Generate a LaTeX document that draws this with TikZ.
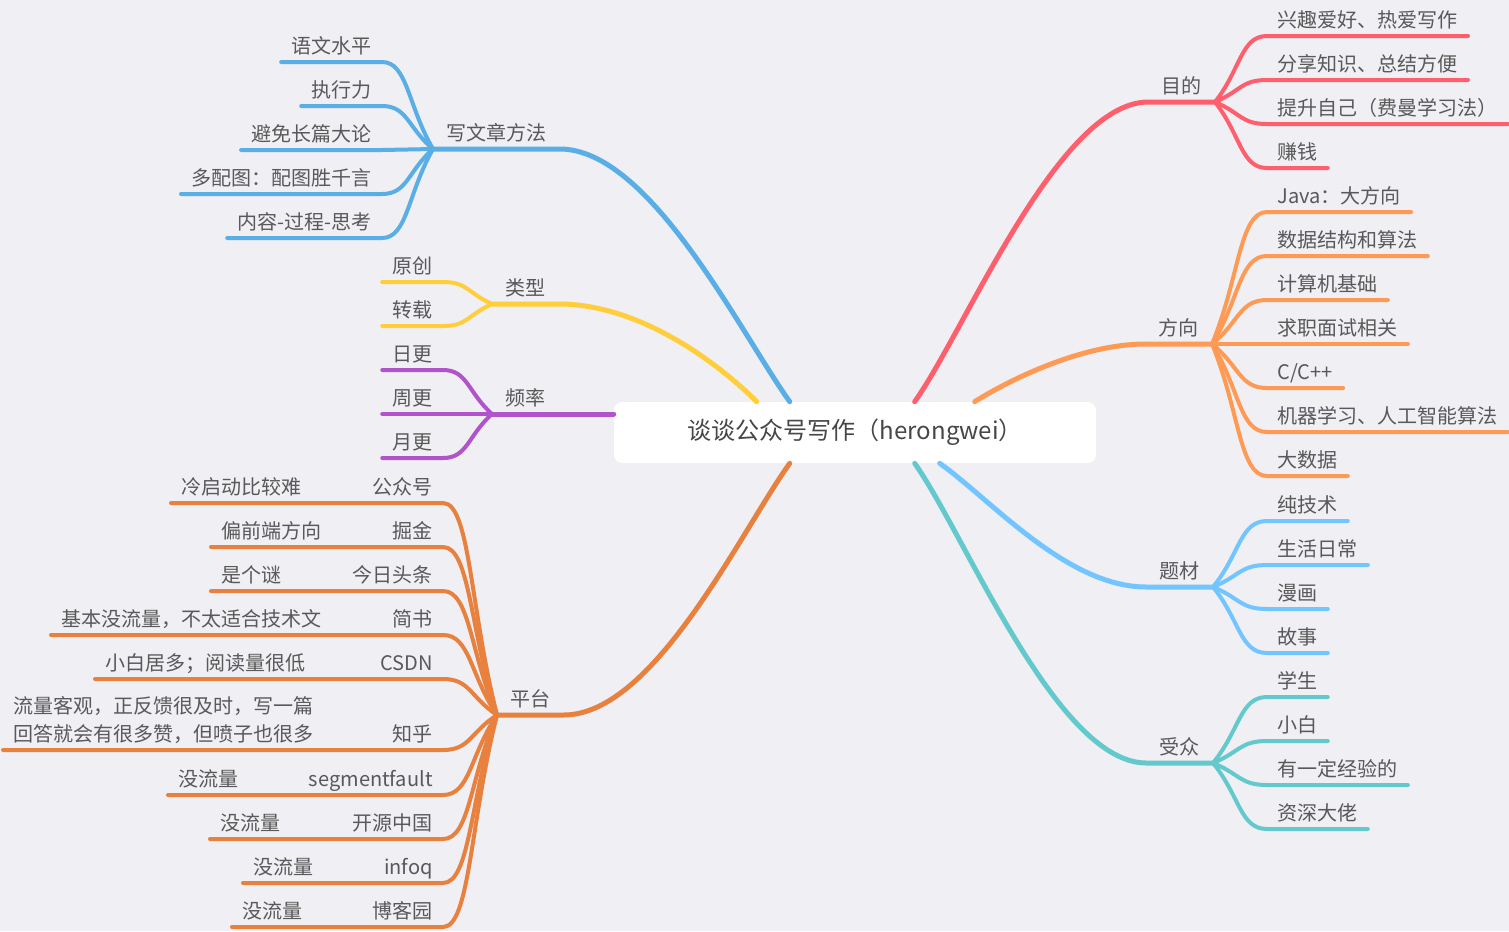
\documentclass[tikz,border=0pt]{standalone}
\usepackage{fontspec}
\setmainfont{Noto Sans CJK SC}
\usetikzlibrary{calc}

\definecolor{bgcol}{HTML}{EFEFF4}
\definecolor{txtcol}{HTML}{595959}
\definecolor{mudicol}{HTML}{FF5E6C}
\definecolor{fxcol}{HTML}{FF9A55}
\definecolor{tccol}{HTML}{72C5FF}
\definecolor{szcol}{HTML}{63C9CC}
\definecolor{xfcol}{HTML}{5AAEE6}
\definecolor{lxcol}{HTML}{FFCE3A}
\definecolor{plcol}{HTML}{B153CB}
\definecolor{ptcol}{HTML}{E8803E}

\tikzset{
  topic/.style={font=\fontsize{11.4}{13.7}\selectfont, text=txtcol, inner xsep=0.26cm, inner ysep=0.17cm, text depth=0pt},
  leaf/.style={topic, inner xsep=0.2cm},
  note/.style={leaf, align=left, font=\fontsize{11.4}{15.9}\selectfont},
  rootbox/.style={fill=white, rounded corners=0.16cm, minimum width=9.64cm, minimum height=1.22cm, font=\fontsize{13.7}{16}\selectfont, text=black!72},
  branch/.style={line width=0.1cm, line cap=round},
  twig/.style={line width=0.08cm, line cap=round},
  fan/.style={to path={.. controls ($(\tikztostart)!0.5!(\tikztotarget)$) and ($(\tikztotarget)!0.5!(\tikztotarget -| \tikztostart)$) .. (\tikztotarget)}}
}

\begin{document}
\begin{tikzpicture}[x=0.02cm, y=-0.02cm]
\useasboundingbox (0,0) rectangle (1509,931);
\fill[bgcol] (0,0) rectangle (1509,931);
%central topic
\node[rootbox] (root) at (855,432.5) {谈谈公众号写作（herongwei）};
%main topics
\node[topic, anchor=south east] (mudi) at (1215,102) {目的};
\node[topic, anchor=south east] (fangxiang) at (1212,344) {方向};
\node[topic, anchor=south east] (ticai) at (1213,587) {题材};
\node[topic, anchor=south east] (shouzhong) at (1213,763) {受众};
\node[topic, anchor=south west] (xiefa) at (433,149) {写文章方法};
\node[topic, anchor=south west] (leixing) at (492,304) {类型};
\node[topic, anchor=south west] (pinlv) at (492,414) {频率};
\node[topic, anchor=south west] (pingtai) at (497,715) {平台};
%right branches
\draw[branch, mudicol] ($(root.north west)+(301,0)$) .. controls +(50,-70) and +(-90,0) .. (mudi.south west) -- (mudi.south east);
\draw[branch, fxcol] ($(root.north west)+(361,0)$) .. controls +(40,-25) and +(-60,0) .. (fangxiang.south west) -- (fangxiang.south east);
\draw[branch, tccol] ($(root.south west)+(326,0)$) .. controls +(50,35) and +(-80,0) .. (ticai.south west) -- (ticai.south east);
\draw[branch, szcol] ($(root.south west)+(301,0)$) .. controls +(50,70) and +(-90,0) .. (shouzhong.south west) -- (shouzhong.south east);
%left branches
\draw[branch, xfcol] ($(root.north west)+(176,0)$) .. controls +(-50,-70) and +(90,0) .. (xiefa.south east) -- (xiefa.south west);
\draw[branch, lxcol] ($(root.north west)+(143,0)$) .. controls +(-40,-40) and +(80,0) .. (leixing.south east) -- (leixing.south west);
\draw[branch, plcol] (pinlv.south east -| root.west) -- (pinlv.south east) -- (pinlv.south west);
\draw[branch, ptcol] ($(root.south west)+(176,0)$) .. controls +(-50,70) and +(90,0) .. (pingtai.south east) -- (pingtai.south west);
%目的
\foreach \n/\y/\t in {1/36/兴趣爱好、热爱写作, 2/80/分享知识、总结方便, 3/124/提升自己（费曼学习法）, 4/168/赚钱}{
  \node[leaf, anchor=south west] (mudi-\n) at (1267,\y) {\t};
  \draw[twig, mudicol] (mudi.south east) to[fan] (mudi-\n.south west) -- (mudi-\n.south east);
}
%方向
\foreach \n/\y/\t in {1/212/Java：大方向, 2/256/数据结构和算法, 3/300/计算机基础, 4/344/求职面试相关, 5/388/{C/C++}, 6/432/机器学习、人工智能算法, 7/476/大数据}{
  \node[leaf, anchor=south west] (fx-\n) at (1267,\y) {\t};
  \draw[twig, fxcol] (fangxiang.south east) to[fan] (fx-\n.south west) -- (fx-\n.south east);
}
%题材
\foreach \n/\y/\t in {1/521/纯技术, 2/565/生活日常, 3/609/漫画, 4/653/故事}{
  \node[leaf, anchor=south west] (tc-\n) at (1267,\y) {\t};
  \draw[twig, tccol] (ticai.south east) to[fan] (tc-\n.south west) -- (tc-\n.south east);
}
%受众
\foreach \n/\y/\t in {1/697/学生, 2/741/小白, 3/785/有一定经验的, 4/829/资深大佬}{
  \node[leaf, anchor=south west] (sz-\n) at (1267,\y) {\t};
  \draw[twig, szcol] (shouzhong.south east) to[fan] (sz-\n.south west) -- (sz-\n.south east);
}
%写文章方法
\foreach \n/\y/\t in {1/62/语文水平, 2/106/执行力, 3/150/避免长篇大论, 4/194/多配图：配图胜千言, 5/238/内容-过程-思考}{
  \node[leaf, anchor=south east] (xf-\n) at (382,\y) {\t};
  \draw[twig, xfcol] (xiefa.south west) to[fan] (xf-\n.south east) -- (xf-\n.south west);
}
%类型
\foreach \n/\y/\t in {1/282/原创, 2/326/转载}{
  \node[leaf, anchor=south east] (lx-\n) at (443,\y) {\t};
  \draw[twig, lxcol] (leixing.south west) to[fan] (lx-\n.south east) -- (lx-\n.south west);
}
%频率
\foreach \n/\y/\t in {1/370/日更, 2/414/周更, 3/458/月更}{
  \node[leaf, anchor=south east] (pl-\n) at (443,\y) {\t};
  \draw[twig, plcol] (pinlv.south west) to[fan] (pl-\n.south east) -- (pl-\n.south west);
}
%平台
\foreach \n/\y/\x/\l/\t in {1/503/171/公众号/冷启动比较难, 2/547/211/掘金/偏前端方向, 3/591/211/今日头条/是个谜, 4/635/51/简书/基本没流量，不太适合技术文, 5/679/95/CSDN/小白居多；阅读量很低, 6/750/3/知乎/{流量客观，正反馈很及时，写一篇\\回答就会有很多赞，但喷子也很多}, 7/795/168/segmentfault/没流量, 8/839/210/开源中国/没流量, 9/883/243/infoq/没流量, 10/927/232/博客园/没流量}{
  \node[leaf, anchor=south east] (pt-\n) at (443,\y) {\l};
  \node[note, anchor=south west] (ptn-\n) at (\x,\y) {\t};
  \draw[twig, ptcol] (pingtai.south west) to[fan] (pt-\n.south east) -- (ptn-\n.south west);
}
\end{tikzpicture}
\end{document}
